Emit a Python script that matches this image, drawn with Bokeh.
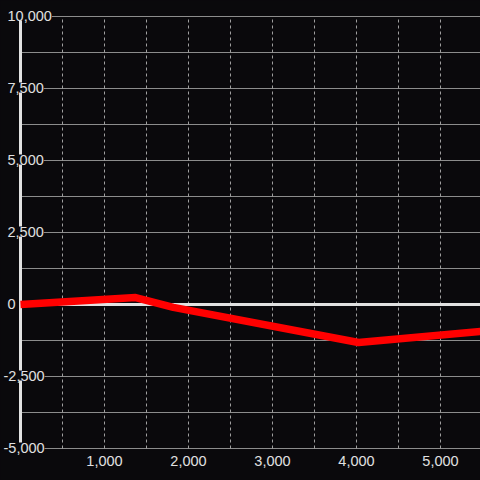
from bokeh.plotting import figure
from bokeh.models import Range1d, ColumnDataSource
from bokeh.core.properties import value
from bokeh.embed import file_html
from bokeh.resources import INLINE

# data
line_x = [0, 1370, 1820, 4024, 5476]
line_y = [0, 240, -100, -1320, -937]

y_ticks = [-5000, -2500, 0, 2500, 5000, 7500, 10000]
y_labels = ["-5,000", "-2,500", "0", "2,500", "5,000", "7,500", "10,000"]
y_grid = [-5000, -3750, -2500, -1250, 0, 1250, 2500, 3750, 5000, 6250, 7500, 8750, 10000]
x_ticks = [1000, 2000, 3000, 4000, 5000]
x_labels = ["1,000", "2,000", "3,000", "4,000", "5,000"]
x_grid = [500, 1000, 1500, 2000, 2500, 3000, 3500, 4000, 4500, 5000, 5500]

BG = "#0a090c"
FONT = "Liberation Sans"

p = figure(width=480, height=480, x_range=Range1d(-238.1, 5476.2),
           y_range=Range1d(-6111.1, 10555.6), output_backend="svg",
           toolbar_location=None, x_axis_location=None, y_axis_location=None,
           min_border=0, background_fill_color=BG, border_fill_color=BG,
           outline_line_color=None)
p.xgrid.visible = False
p.ygrid.visible = False

ymin, ymax = y_ticks[0], y_ticks[-1]
xmax = 6000

# horizontal grid lines
p.segment(x0=[0] * len(y_grid), x1=[xmax] * len(y_grid), y0=y_grid, y1=y_grid,
          line_color="#8c8c8c", line_width=1)
# vertical dotted grid lines
p.segment(x0=x_grid, x1=x_grid, y0=[ymin] * len(x_grid), y1=[ymax] * len(x_grid),
          line_color="#a0a0a0", line_width=1, line_dash="3 3")
# zero lines
p.segment(x0=[0], x1=[xmax], y0=[0], y1=[0], line_color="#e2e2e2", line_width=3)
p.segment(x0=[0], x1=[0], y0=[ymin], y1=[ymax], line_color="#e2e2e2", line_width=3)

# data line
p.line(line_x, line_y, line_color="#ff0000", line_width=7.5, line_join="round")

# y labels
offs = [-17 if v < 0 else -13 for v in y_ticks]
ysrc = ColumnDataSource(dict(x=[0] * len(y_ticks), y=y_ticks, t=y_labels, o=offs))
p.text(x="x", y="y", text="t", x_offset="o", y_offset=-1, source=ysrc,
       text_align="left", text_baseline="middle", text_font=value(FONT),
       text_font_size="14.5px", text_color="#e0e0e0", background_fill_color=BG)

# x labels
xsrc = ColumnDataSource(dict(x=x_ticks, y=[ymin] * len(x_ticks), t=x_labels))
p.text(x="x", y="y", text="t", y_offset=12, source=xsrc, text_align="center",
       text_baseline="middle", text_font=value(FONT), text_font_size="14.5px",
       text_color="#e0e0e0")

html = file_html(p, INLINE)
html = html.replace("</head>", "<style>html,body{background:%s;}</style></head>" % BG, 1)
open("out.html", "w").write(html)
